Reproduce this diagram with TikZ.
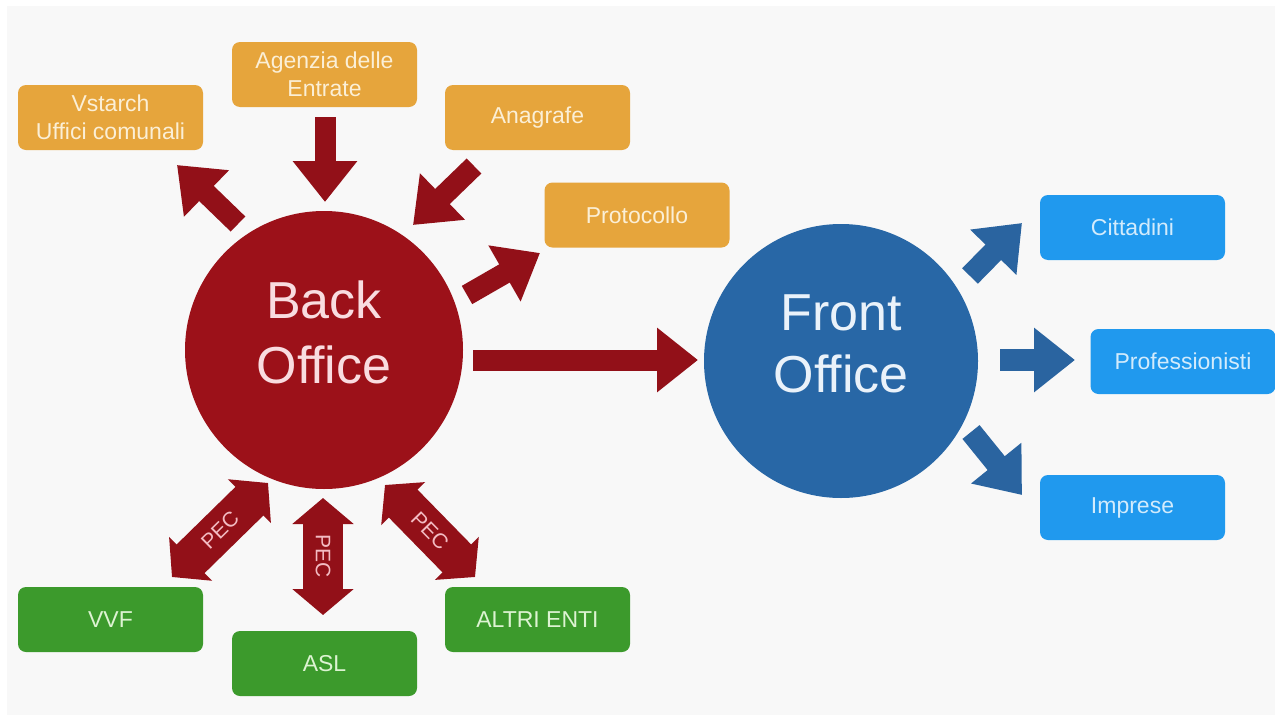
\documentclass[tikz,border=0pt]{standalone}
\usepackage{fontspec}
\setmainfont{Liberation Sans}
\usetikzlibrary{arrows.meta}
\definecolor{bgc}{HTML}{F8F8F8}
\definecolor{boxor}{HTML}{E6A53C}
\definecolor{txtor}{HTML}{FBEFD6}
\definecolor{boxbl}{HTML}{2099EE}
\definecolor{txtbl}{HTML}{D2EBFC}
\definecolor{boxgr}{HTML}{3C9A2C}
\definecolor{txtgr}{HTML}{DDF3D2}
\definecolor{redc}{HTML}{9C1119}
\definecolor{reda}{HTML}{921018}
\definecolor{bluec}{HTML}{2867A6}
\definecolor{bluea}{HTML}{2A64A0}
\definecolor{txtred}{HTML}{F9DCE0}
\definecolor{txtpec}{HTML}{F3BCC3}
\definecolor{txtblc}{HTML}{EAF2FA}
\begin{document}
\begin{tikzpicture}[x=1pt,y=-1pt,
  box/.style={rounded corners=8pt, minimum width=185pt, minimum height=65pt,
    inner sep=0pt, align=center, font=\fontsize{23}{28}\selectfont},
  obox/.style={box, fill=boxor, text=txtor},
  bbox/.style={box, fill=boxbl, text=txtbl},
  gbox/.style={box, fill=boxgr, text=txtgr},
  bigc/.style={circle, inner sep=0pt},
  bigt/.style={anchor=base, inner sep=0pt, font=\fontsize{52}{60}\selectfont},
  redarr/.style={draw=reda, line width=21pt, -{Triangle[width=62pt,length=41pt]}},
  bluearr/.style={draw=bluea, line width=22pt, -{Triangle[width=62pt,length=41pt]}},
  pecarr/.style={draw=reda, line width=40pt,
    {Triangle[width=60pt,length=26pt]}-{Triangle[width=60pt,length=26pt]}},
  pect/.style={text=txtpec, inner sep=0pt, font=\fontsize{21}{24}\selectfont}
]
\useasboundingbox (0,0) rectangle (1275,715);
\fill[white] (0,0) rectangle (1275,715);
\fill[bgc] (7,6) rectangle (1275,715);

% circles
\node[bigc, fill=redc, minimum size=278pt] (bo) at (324,350) {};
\node[bigc, fill=bluec, minimum size=274pt] (fo) at (841,361) {};
\node[bigt, text=txtred] (bo1) at (324,318) {Back};
\node[bigt, text=txtred] (bo2) at (324,383) {Office};
\node[bigt, text=txtblc] (fo1) at (841,330) {Front};
\node[bigt, text=txtblc] (fo2) at (841,392) {Office};

% orange boxes
\node[obox] (vs) at (110.5,117.5) {Vstarch\\Uffici comunali};
\node[obox] (ag) at (324.5,74.5) {Agenzia delle\\Entrate};
\node[obox] (an) at (537.5,117.5) {Anagrafe};
\node[obox] (pr) at (637,215) {Protocollo};

% blue boxes
\node[bbox] (ci) at (1132.5,227.5) {Cittadini};
\node[bbox] (pf) at (1183,361.5) {Professionisti};
\node[bbox] (im) at (1132.5,507.5) {Imprese};

% green boxes
\node[gbox] (vv) at (110.5,619.5) {VVF};
\node[gbox] (as) at (324.5,663.5) {ASL};
\node[gbox] (al) at (537.5,619.5) {ALTRI ENTI};

% arrow end points
\coordinate (a1s) at (238,224); \coordinate (a1e) at (177,165);
\coordinate (a2s) at (325,117); \coordinate (a2e) at (325,202);
\coordinate (a3s) at (474,166); \coordinate (a3e) at (413,225);
\coordinate (a4s) at (467,295); \coordinate (a4e) at (540,253);
\coordinate (a5s) at (473,360); \coordinate (a5e) at (698,360);
\coordinate (b1s) at (970,276); \coordinate (b1e) at (1022,223);
\coordinate (b2s) at (1000,360); \coordinate (b2e) at (1075,360);
\coordinate (b3s) at (971,432); \coordinate (b3e) at (1022,495);
\coordinate (p1s) at (172,577); \coordinate (p1e) at (268,483);
\coordinate (p2s) at (323,615); \coordinate (p2e) at (323,498);
\coordinate (p3s) at (475,577); \coordinate (p3e) at (385,485);

% red arrows
\draw[redarr] (a1s) -- (a1e);
\draw[redarr] (a2s) -- (a2e);
\draw[redarr] (a3s) -- (a3e);
\draw[redarr] (a4s) -- (a4e);
\draw[redarr] (a5s) -- (a5e);

% blue arrows
\draw[bluearr] (b1s) -- (b1e);
\draw[bluearr] (b2s) -- (b2e);
\draw[bluearr] (b3s) -- (b3e);

% PEC arrows
\draw[pecarr] (p1s) -- node[pect, rotate=44.4] (t1) {PEC} (p1e);
\draw[pecarr] (p2s) -- node[pect, rotate=-90] (t2) {PEC} (p2e);
\draw[pecarr] (p3s) -- node[pect, rotate=-45.6] (t3) {PEC} (p3e);
\end{tikzpicture}
\end{document}
